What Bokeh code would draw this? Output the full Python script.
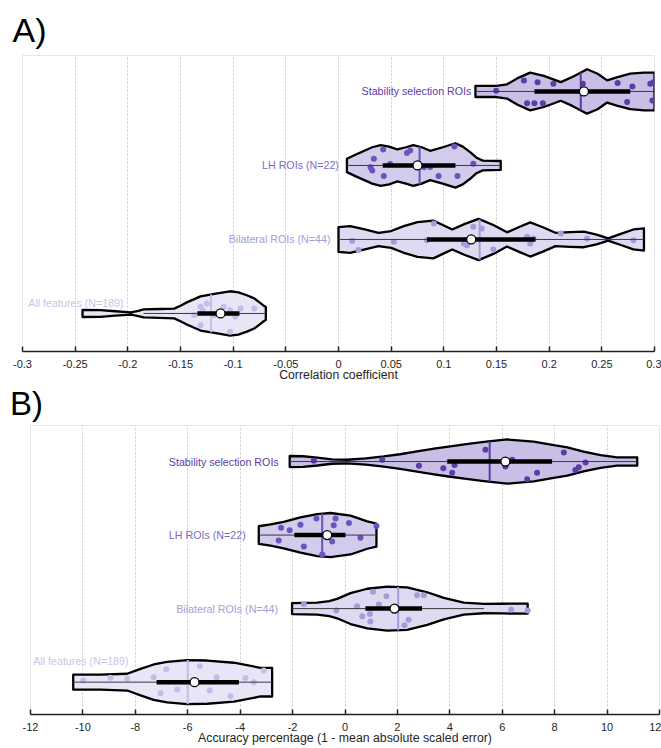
import numpy as np
from bokeh.plotting import figure
from bokeh.layouts import column
from bokeh.models import FixedTicker, CustomJSTickFormatter, Div
from bokeh.core.properties import value
from bokeh.embed import file_html
from bokeh.resources import INLINE

FONT = "Liberation Sans"

# ---------------- data ----------------
names = ["All features (N=189)", "Bilateral ROIs (N=44)", "LH ROIs (N=22)", "Stability selection ROIs"]
positions = [1, 2, 3, 4]
fill_colors = ["#e8e6f6", "#dedaf1", "#d2cbeb", "#c9bee5"]
dot_colors = ["#c3bde8", "#a59cdb", "#6b55bd", "#5a3da5"]
label_colors = ["#c9c4e8", "#a49dd6", "#7a6cc4", "#5a3da5"]

# Panel A: correlation coefficient. Violin outlines (x, relative half width)
a_all_x = [-0.243, -0.226, -0.212, -0.197, -0.190, -0.185, -0.170, -0.156, -0.150, -0.144, -0.131, -0.115, -0.103, -0.095, -0.087, -0.080, -0.075, -0.071, -0.069]
a_all_w = [0.16, 0.15, 0.10, 0.05, 0.12, 0.18, 0.20, 0.22, 0.35, 0.50, 0.77, 0.90, 1.00, 0.95, 0.82, 0.68, 0.50, 0.35, 0.29]
a_bil_x = [0.000, 0.011, 0.025, 0.038, 0.050, 0.062, 0.075, 0.090, 0.099, 0.108, 0.120, 0.133, 0.147, 0.160, 0.171, 0.182, 0.194, 0.206, 0.220, 0.233, 0.245, 0.256, 0.268, 0.280, 0.290]
a_bil_w = [0.56, 0.60, 0.45, 0.30, 0.38, 0.60, 0.78, 0.85, 0.65, 0.45, 0.70, 0.93, 0.65, 0.32, 0.55, 0.77, 0.55, 0.30, 0.33, 0.35, 0.22, 0.05, 0.25, 0.45, 0.50]
a_lh_x = [0.008, 0.016, 0.024, 0.032, 0.040, 0.048, 0.056, 0.064, 0.071, 0.079, 0.087, 0.099, 0.111, 0.118, 0.125, 0.131, 0.137, 0.154]
a_lh_w = [0.30, 0.48, 0.65, 0.82, 0.92, 0.85, 0.72, 0.82, 0.92, 0.82, 0.66, 0.82, 1.00, 0.85, 0.60, 0.35, 0.22, 0.20]
a_stab_x = [0.130, 0.150, 0.160, 0.170, 0.182, 0.195, 0.211, 0.222, 0.236, 0.246, 0.255, 0.265, 0.277, 0.290, 0.300]
a_stab_w = [0.25, 0.25, 0.32, 0.60, 0.85, 0.70, 0.42, 0.65, 1.00, 0.80, 0.50, 0.65, 0.80, 0.85, 0.85]

a_mean = [-0.121, 0.134, 0.077, 0.230]
a_median = [-0.112, 0.126, 0.075, 0.233]
a_q1 = [-0.134, 0.084, 0.042, 0.186]
a_q3 = [-0.094, 0.187, 0.111, 0.277]
a_wlo = [-0.185, 0.000, 0.008, 0.130]
a_whi = [-0.069, 0.290, 0.154, 0.300]

# Panel A data points (value, vertical jitter)
a_all_pts = [-0.131, -0.129, -0.118, -0.109, -0.103, -0.093, -0.080, -0.131, -0.103, -0.098, -0.125, -0.137]
a_all_jit = [0.09, 0.045, -0.023, 0.09, 0.045, 0.068, 0.068, -0.158, -0.248, -0.045, 0.135, -0.02]
a_bil_pts = [0.013, 0.019, 0.0525, 0.084, 0.0905, 0.119, 0.122, 0.128, 0.136, 0.147, 0.179, 0.185, 0.182, 0.211, 0.236, 0.280]
a_bil_jit = [-0.018, -0.144, -0.032, -0.009, 0.216, -0.054, -0.077, 0.171, 0.149, -0.135, 0.036, 0.014, -0.054, 0.081, 0.014, -0.009]
a_lh_pts = [0.0336, 0.0424, 0.0304, 0.032, 0.043, 0.065, 0.068, 0.081, 0.095, 0.113, 0.110, 0.128, 0.087, 0.049]
a_lh_jit = [0.09, 0.216, -0.023, -0.068, -0.144, 0.167, 0.203, -0.023, -0.144, -0.144, 0.257, 0.023, -0.02, 0.02]
a_stab_pts = [0.1497, 0.176, 0.189, 0.204, 0.179, 0.186, 0.194, 0.232, 0.265, 0.274, 0.279, 0.296, 0.299, 0.298]
a_stab_jit = [0.009, 0.149, 0.126, 0.104, -0.158, -0.158, -0.158, 0.104, 0.113, -0.144, 0.068, 0.104, 0.126, -0.122]

a_ticks = [-0.3, -0.25, -0.2, -0.15, -0.1, -0.05, 0.0, 0.05, 0.1, 0.15, 0.2, 0.25, 0.3]
a_tick_labels = ["-0.3", "-0.25", "-0.2", "-0.15", "-0.1", "-0.05", "0", "0.05", "0.1", "0.15", "0.2", "0.25", "0.3"]

# Panel B: accuracy percentage
b_all_x = [-10.37, -9.33, -8.31, -7.80, -7.30, -6.79, -6.02, -5.26, -4.24, -3.22, -2.78]
b_all_w = [0.34, 0.34, 0.38, 0.60, 0.80, 0.92, 1.00, 0.98, 0.88, 0.65, 0.65]
b_bil_x = [-2.02, -1.06, -0.60, -0.30, 0.21, 0.85, 1.61, 2.37, 3.14, 3.77, 4.53, 5.30, 6.00, 6.97]
b_bil_w = [0.25, 0.27, 0.34, 0.44, 0.70, 0.90, 1.00, 0.96, 0.74, 0.49, 0.27, 0.21, 0.22, 0.23]
b_lh_x = [-3.29, -2.84, -2.34, -1.70, -1.06, -0.55, 0.21, 0.85, 1.20]
b_lh_w = [0.40, 0.48, 0.60, 0.80, 0.95, 1.00, 0.88, 0.62, 0.52]
b_stab_x = [-2.11, -1.60, -1.06, -0.50, 0.08, 0.80, 1.48, 2.10, 2.75, 3.40, 4.02, 4.70, 5.30, 6.19, 7.20, 7.80, 8.48, 9.10, 9.75, 10.38, 11.15]
b_stab_w = [0.25, 0.24, 0.18, 0.10, 0.08, 0.14, 0.23, 0.33, 0.46, 0.58, 0.69, 0.80, 0.89, 1.00, 0.90, 0.78, 0.64, 0.45, 0.29, 0.19, 0.19]

b_mean = [-6.00, 2.03, -0.87, 5.52]
b_median = [-5.74, 1.89, -0.68, 6.12]
b_q1 = [-7.19, 0.78, -1.93, 3.90]
b_q3 = [-4.05, 2.94, 0.02, 7.90]
b_wlo = [-10.37, -2.02, -3.29, -2.11]
b_whi = [-2.78, 5.30, 1.20, 11.15]

b_all_pts = [-9.99, -8.95, -8.31, -7.30, -6.82, -7.04, -6.40, -5.54, -5.16, -4.90, -4.37, -3.80, -3.48, -3.10]
b_all_jit = [0.023, 0.059, 0.046, 0.068, 0.174, -0.151, -0.10, 0.215, -0.114, 0.068, -0.192, 0.055, 0.0, 0.16]
b_bil_pts = [-1.57, -0.33, 0.46, 0.66, 0.95, 0.97, 1.07, 1.29, 1.58, 2.75, 3.01, 2.27, 2.43, 6.34, 6.97]
b_bil_jit = [0.064, -0.027, 0.032, -0.105, -0.073, -0.174, 0.228, 0.055, 0.169, 0.183, 0.183, -0.228, -0.151, -0.014, -0.027]
b_lh_pts = [-2.44, -2.11, -1.70, -1.09, -0.36, -0.43, 0.15, -2.53, -1.57, -0.49, 0.59, 1.20, -0.87]
b_lh_jit = [0.10, 0.064, 0.142, 0.224, 0.224, 0.132, 0.164, -0.073, -0.155, -0.087, -0.037, 0.123, -0.265]
b_stab_pts = [-1.19, 1.42, 2.82, 3.75, 4.18, 4.09, 5.36, 6.12, 6.38, 6.95, 7.33, 8.35, 8.79, 8.92, 9.18]
b_stab_jit = [0.009, 0.023, -0.059, -0.091, -0.046, -0.151, 0.160, -0.068, 0.023, -0.242, -0.151, 0.123, -0.114, -0.078, -0.014]

b_ticks = [-12, -10, -8, -6, -4, -2, 0, 2, 4, 6, 8, 10, 12]
b_tick_labels = ["-12", "-10", "-8", "-6", "-4", "-2", "0", "2", "4", "6", "8", "10", "12"]

HALF = 0.3  # maximum violin half width (category units)


def make_panel(title, xr, yr, ticks, tick_labels, xlabel, height, borders,
               title_offset, title_standoff, label_standoffs):
    left, right, top, bottom = borders
    p = figure(width=661, height=height, x_range=xr, y_range=yr,
               output_backend="svg", toolbar_location=None, y_axis_location=None,
               min_border_left=left, min_border_right=right,
               min_border_top=top, min_border_bottom=bottom)
    p.frame_align = False
    if title:
        p.title.text = title
        p.title.text_font = FONT
        p.title.text_font_size = "34px"
        p.title.text_font_style = "normal"
        p.title.text_color = "black"
        p.title.offset = title_offset
        p.title.standoff = title_standoff
    p.outline_line_color = "#e6e6e6"
    p.background_fill_color = "white"
    p.ygrid.visible = False
    p.xgrid.grid_line_color = "#c8c8c8"
    p.xgrid.grid_line_dash = "2 2"
    p.xgrid.grid_line_width = 1
    ax = p.xaxis[0]
    ax.ticker = FixedTicker(ticks=ticks)
    ax.formatter = CustomJSTickFormatter(args=dict(vals=ticks, labs=tick_labels), code="""
        for (let i = 0; i < vals.length; i++) {
            if (Math.abs(tick - vals[i]) < 1e-9) { return labs[i]; }
        }
        return "";
    """)
    ax.axis_line_color = "#222222"
    ax.axis_line_width = 1.5
    ax.major_tick_in = 5
    ax.major_tick_out = 0
    ax.major_tick_line_color = "#222222"
    ax.major_tick_line_width = 1.5
    ax.minor_tick_line_color = None
    ax.major_label_text_font = FONT
    ax.major_label_text_font_size = "11px"
    ax.major_label_text_color = "#262626"
    ax.major_label_standoff = label_standoffs[0]
    ax.axis_label = xlabel
    ax.axis_label_text_font = FONT
    ax.axis_label_text_font_size = "12.3px"
    ax.axis_label_text_font_style = "normal"
    ax.axis_label_text_color = "#262626"
    ax.axis_label_standoff = label_standoffs[1]
    return p


def draw_violins(p, profiles, points, stats, label_cfg, dot_size):
    mean, median, q1, q3, wlo, whi = stats
    for i, ((xs, ws), (pts, jit)) in enumerate(zip(profiles, points)):
        y0 = positions[i]
        xs = np.asarray(xs, dtype=float)
        hw = HALF * np.asarray(ws, dtype=float)
        px = np.concatenate([xs, xs[::-1]])
        py = np.concatenate([y0 + hw, (y0 - hw)[::-1]])
        p.patch(px, py, fill_color=fill_colors[i], line_color="black",
                line_width=2.3, line_join="round")
        # mean line spanning the violin
        mh = HALF * np.interp(mean[i], xs, ws)
        p.segment(x0=[mean[i]], y0=[y0 - mh], x1=[mean[i]], y1=[y0 + mh],
                  line_color=dot_colors[i], line_width=2)
        # data points
        p.scatter(x=pts, y=[y0 + j for j in jit], size=dot_size, marker="circle",
                  fill_color=dot_colors[i], line_color=None)
        # whisker
        p.segment(x0=[wlo[i]], y0=[y0], x1=[whi[i]], y1=[y0], line_color="#3a3a3a", line_width=1)
        # box (IQR)
        p.segment(x0=[q1[i]], y0=[y0], x1=[q3[i]], y1=[y0], line_color="black", line_width=4.5)
        # median
        p.scatter(x=[median[i]], y=[y0], size=9, marker="circle", fill_color="white",
                  line_color="black", line_width=1.3)
        # category label
        lx, align, xoff, yoff = label_cfg[i]
        p.text(x=[lx], y=[y0], text=[names[i]], text_align=align, text_baseline="middle",
               x_offset=xoff, y_offset=yoff, text_font=value(FONT), text_font_size="10.7px",
               text_color=label_colors[i])


# ---------------- panel A ----------------
pA = make_panel("A)", (-0.3, 0.3), (0.486, 4.486), a_ticks, a_tick_labels,
                "Correlation coefficient", 389, (22, 7, 55, 38), -10, 14, (8, -3))
draw_violins(
    pA,
    [(a_all_x, a_all_w), (a_bil_x, a_bil_w), (a_lh_x, a_lh_w), (a_stab_x, a_stab_w)],
    [(a_all_pts, a_all_jit), (a_bil_pts, a_bil_jit), (a_lh_pts, a_lh_jit), (a_stab_pts, a_stab_jit)],
    (a_mean, a_median, a_q1, a_q3, a_wlo, a_whi),
    [(-0.204, "right", 0, -10), (a_bil_x[0], "right", -8, 0), (a_lh_x[0], "right", -8, 0),
     (a_stab_x[0], "right", -4, 0)],
    6,
)

# ---------------- panel B heading ----------------
headB = Div(text="B)", width=661, height=35, margin=0,
            styles={"font-family": FONT, "font-size": "33px", "line-height": "29px",
                    "color": "black", "padding-left": "10px", "box-sizing": "border-box",
                    "overflow": "visible"})

# ---------------- panel B ----------------
pB = make_panel(None, (-12, 12), (0.56, 4.49), b_ticks, b_tick_labels,
                "Accuracy percentage (1 - mean absolute scaled error)",
                324, (30, 2, 1, 34), 0, 0, (8, -3))
draw_violins(
    pB,
    [(b_all_x, b_all_w), (b_bil_x, b_bil_w), (b_lh_x, b_lh_w), (b_stab_x, b_stab_w)],
    [(b_all_pts, b_all_jit), (b_bil_pts, b_bil_jit), (b_lh_pts, b_lh_jit), (b_stab_pts, b_stab_jit)],
    (b_mean, b_median, b_q1, b_q3, b_wlo, b_whi),
    [(-8.26, "right", 0, -21), (b_bil_x[0], "right", -14, 0), (b_lh_x[0], "right", -13, 0),
     (b_stab_x[0], "right", -11, 0)],
    6,
)

layout = column(pA, headB, pB, spacing=0)
open("out.html", "w").write(file_html(layout, INLINE))
